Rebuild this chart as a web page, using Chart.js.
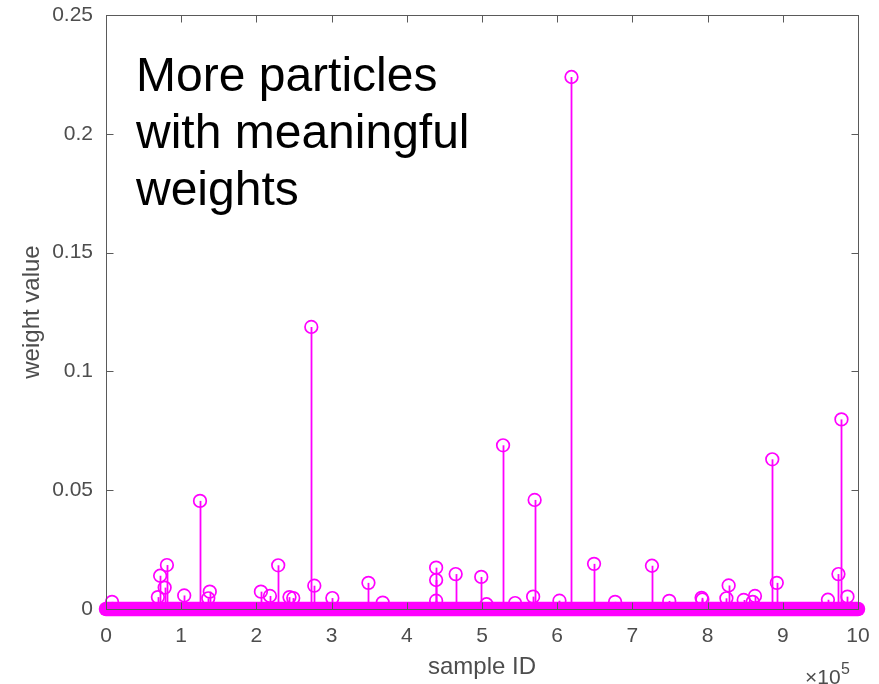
<!DOCTYPE html>
<html><head><meta charset="utf-8">
<script src="https://cdn.jsdelivr.net/npm/chart.js@4.4.1/dist/chart.umd.min.js"></script>
<style>html,body{margin:0;padding:0;background:#fff}#wrap{width:879px;height:684px;position:relative}</style>
</head><body><div id="wrap"><canvas id="c" width="879" height="684"></canvas></div>
<script>
// Sample IDs (x 10^5) of the particles with a visible weight, and their weights
const sampleIds = [0.08, 0.69, 0.72, 0.78, 0.81, 1.04, 1.25, 1.36, 1.38, 2.06, 2.18, 2.29, 2.44, 2.49, 2.73, 2.77, 3.01, 3.49, 3.68,
  4.39, 4.39, 4.39, 4.65, 4.99, 5.06, 5.28, 5.44, 5.68, 5.70, 6.03, 6.19, 6.49, 6.77, 7.26, 7.49, 7.92, 7.93, 8.25, 8.28, 8.48, 8.60, 8.63,
  8.86, 8.92, 9.60, 9.74, 9.78, 9.86];
const weights = [0.003, 0.005, 0.014, 0.009, 0.0185, 0.0057, 0.0455, 0.0045, 0.0073, 0.0073, 0.0055, 0.0184, 0.005, 0.0046, 0.1187, 0.0098, 0.0046, 0.011, 0.0027,
  0.0174, 0.0122, 0.0035, 0.0147, 0.0135, 0.002, 0.0689, 0.0025, 0.0052, 0.0459, 0.0035, 0.2239, 0.019, 0.003, 0.0182, 0.0034, 0.0047, 0.004, 0.0045, 0.0099, 0.0038, 0.003, 0.0055,
  0.063, 0.011, 0.0039, 0.0147, 0.0798, 0.0052];
// range of sample IDs whose weight is (near) zero: drawn as the dense baseline band
const zeroWeightRange = [0, 10];
const zeroWeightValue = [0, 0];

const xTicks = [0, 1, 2, 3, 4, 5, 6, 7, 8, 9, 10];
const xTickLabels = ['0', '1', '2', '3', '4', '5', '6', '7', '8', '9', '10'];
const yTicks = [0, 0.05, 0.1, 0.15, 0.2, 0.25];
const yTickLabels = ['0', '0.05', '0.1', '0.15', '0.2', '0.25'];
const xLabel = 'sample ID';
const yLabel = 'weight value';
const xExponentBase = '\u00d710';
const xExponent = '5';
const noteLines = ['More particles', 'with meaningful', 'weights'];

const MAG = '#ff00ff';
const AXIS = '#5a5a5a';
const TICKTXT = '#4d4d4d';
const FONT = "'Liberation Sans', Arial, sans-serif";

const stemData = sampleIds.map((x, i) => ({x: x, y: weights[i]}));
const bandData = zeroWeightRange.map((x, i) => ({x: x, y: zeroWeightValue[i]}));

const stemPlugin = {
  id: 'stems',
  beforeDatasetsDraw(chart) {
    const ctx = chart.ctx, xs = chart.scales.x, ys = chart.scales.y;
    ctx.save();
    ctx.strokeStyle = MAG; ctx.lineWidth = 1.8;
    const y0 = ys.getPixelForValue(0);
    stemData.forEach(p => {
      const px = Math.round(xs.getPixelForValue(p.x)) + 0.5;
      ctx.beginPath();
      ctx.moveTo(px, y0);
      ctx.lineTo(px, ys.getPixelForValue(p.y));
      ctx.stroke();
    });
    ctx.restore();
  },
  afterDraw(chart) {
    const ctx = chart.ctx, xs = chart.scales.x, ys = chart.scales.y, a = chart.chartArea;
    ctx.save();
    // box
    ctx.strokeStyle = AXIS; ctx.lineWidth = 1;
    const L = Math.round(a.left) + 0.5, R = Math.round(a.right) + 0.5, T = Math.round(a.top) + 0.5, B = Math.round(a.bottom) + 0.5;
    ctx.strokeRect(L, T, R - L, B - T);
    const tl = 7;
    ctx.beginPath();
    xTicks.forEach(v => {
      const px = Math.round(xs.getPixelForValue(v)) + 0.5;
      ctx.moveTo(px, T); ctx.lineTo(px, T + tl);
      ctx.moveTo(px, B); ctx.lineTo(px, B - tl);
    });
    yTicks.forEach(v => {
      const py = Math.round(ys.getPixelForValue(v)) + 0.5;
      ctx.moveTo(L, py); ctx.lineTo(L + tl, py);
      ctx.moveTo(R, py); ctx.lineTo(R - tl, py);
    });
    ctx.stroke();
    // exponent label
    ctx.fillStyle = TICKTXT;
    ctx.textBaseline = 'alphabetic';
    ctx.textAlign = 'left';
    ctx.font = '21px ' + FONT;
    const ex = 805, ey = 684;
    ctx.fillText(xExponentBase, ex, ey);
    const w = ctx.measureText(xExponentBase).width;
    ctx.font = '16px ' + FONT;
    ctx.fillText(xExponent, ex + w + 0.5, ey - 10);
    // annotation
    ctx.fillStyle = '#000';
    ctx.font = '48px ' + FONT;
    noteLines.forEach((t, i) => ctx.fillText(t, 136, 91 + i * 57));
    ctx.restore();
  }
};

new Chart(document.getElementById('c'), {
  type: 'scatter',
  data: {
    datasets: [
      {
        type: 'line', label: 'zero weights', data: bandData, order: 2,
        borderColor: MAG, borderWidth: 14.5, borderCapStyle: 'round', pointRadius: 0, clip: false, fill: false
      },
      {
        label: 'weights', data: stemData, order: 1,
        pointStyle: 'circle', pointRadius: 6.3, pointBorderWidth: 1.7,
        borderColor: MAG, backgroundColor: 'rgba(0,0,0,0)', pointBackgroundColor: 'rgba(0,0,0,0)', pointBorderColor: MAG, clip: false
      }
    ]
  },
  options: {
    responsive: false, animation: false, devicePixelRatio: 1,
    layout: {padding: {left: 0, top: 15, right: 21, bottom: 0}},
    plugins: {legend: {display: false}, tooltip: {enabled: false}},
    scales: {
      x: {
        type: 'linear', min: 0, max: 10,
        afterFit(s) { s.height = 75; s.paddingLeft = 0; s.paddingRight = 0; },
        afterBuildTicks(s) { s.ticks = xTicks.map(v => ({value: v})); },
        grid: {display: false, drawTicks: false},
        border: {display: false},
        ticks: {
          padding: 15, color: TICKTXT, font: {family: FONT, size: 21}, maxRotation: 0,
          callback: (v) => xTickLabels[xTicks.indexOf(v)]
        },
        title: {display: true, text: xLabel, color: TICKTXT, font: {family: FONT, size: 24, lineHeight: 1.2}, padding: {top: 0, bottom: 2}}
      },
      y: {
        type: 'linear', min: 0, max: 0.25,
        afterFit(s) { s.width = 106; s.paddingTop = 0; s.paddingBottom = 0; },
        afterBuildTicks(s) { s.ticks = yTicks.map(v => ({value: v})); },
        grid: {display: false, drawTicks: false},
        border: {display: false},
        ticks: {
          padding: 13, color: TICKTXT, font: {family: FONT, size: 21},
          callback: (v) => yTickLabels[yTicks.indexOf(v)]
        },
        title: {display: true, text: yLabel, color: TICKTXT, font: {family: FONT, size: 24, lineHeight: 1.2}, padding: {top: 18, bottom: 0}}
      }
    }
  },
  plugins: [stemPlugin]
});
</script>
</body></html>
